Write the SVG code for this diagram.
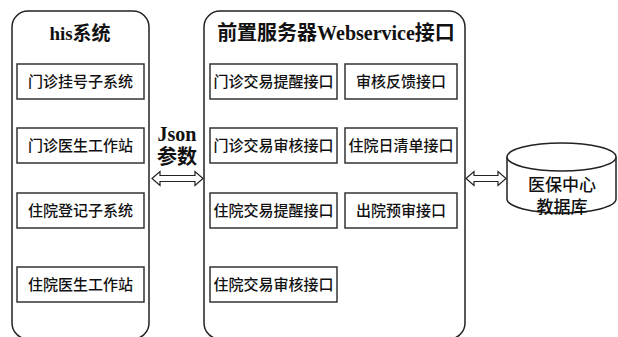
<svg xmlns="http://www.w3.org/2000/svg" width="618" height="337" viewBox="0 0 618 337">
<style>
.cont{fill:#fff;stroke:#222;stroke-width:1.5}
.box{fill:#fff;stroke:#333;stroke-width:1.5}
.t{font-family:"Liberation Serif","Noto Sans CJK SC",serif;font-size:15px;font-weight:500;fill:#111;text-anchor:middle}
.h{font-family:"Liberation Serif","Noto Sans CJK SC",serif;font-size:20px;font-weight:bold;fill:#111;text-anchor:middle}
.arr{fill:#fff;stroke:#222;stroke-width:1.2}
</style>
<rect width="618" height="337" fill="#fff"/>
<g id="his">
<rect class="cont" x="12" y="11" width="137" height="328" rx="16"/>
<text class="h" x="80" y="40" style="font-size:19px">his系统</text>
</g>
<g id="n1"><rect class="box" x="17" y="64" width="127" height="35"/><text class="t" x="80.5" y="87">门诊挂号子系统</text></g>
<g id="n2"><rect class="box" x="17" y="128" width="127" height="35"/><text class="t" x="80.5" y="151">门诊医生工作站</text></g>
<g id="n3"><rect class="box" x="17" y="193" width="127" height="35"/><text class="t" x="80.5" y="216">住院登记子系统</text></g>
<g id="n4"><rect class="box" x="17" y="267" width="127" height="35"/><text class="t" x="80.5" y="290">住院医生工作站</text></g>
<g id="front">
<rect class="cont" x="204" y="11" width="261" height="328" rx="16"/>
<text class="h" x="336" y="40">前置服务器Webservice接口</text>
</g>
<g id="m1"><rect class="box" x="210" y="64" width="127" height="35"/><text class="t" x="273.5" y="87">门诊交易提醒接口</text></g>
<g id="m2"><rect class="box" x="345" y="64" width="112" height="35"/><text class="t" x="401" y="87">审核反馈接口</text></g>
<g id="m3"><rect class="box" x="210" y="128" width="127" height="35"/><text class="t" x="273.5" y="151">门诊交易审核接口</text></g>
<g id="m4"><rect class="box" x="345" y="128" width="112" height="35"/><text class="t" x="401" y="151">住院日清单接口</text></g>
<g id="m5"><rect class="box" x="210" y="193" width="127" height="35"/><text class="t" x="273.5" y="216">住院交易提醒接口</text></g>
<g id="m6"><rect class="box" x="345" y="193" width="112" height="35"/><text class="t" x="401" y="216">出院预审接口</text></g>
<g id="m7"><rect class="box" x="210" y="267" width="127" height="35"/><text class="t" x="273.5" y="290">住院交易审核接口</text></g>
<g id="db">
<path class="cont" d="M507,157 L507,199 A54.5,14 0 0 0 616,199 L616,157"/>
<ellipse class="cont" cx="561.5" cy="157" rx="54.5" ry="14"/>
<text class="t" x="562" y="191" style="font-size:17px">医保中心</text>
<text class="t" x="562" y="213" style="font-size:17px">教据库</text>
</g>
<g id="connectors">
<path class="arr" d="M152,178.5 L160,171.5 L160,175.5 L195,175.5 L195,171.5 L203,178.5 L195,185.5 L195,181.5 L160,181.5 L160,185.5 Z"/>
<path class="arr" d="M466,178.5 L474,171.5 L474,175.5 L498,175.5 L498,171.5 L506,178.5 L498,185.5 L498,181.5 L474,181.5 L474,185.5 Z"/>
<text class="h" x="177" y="141">Json</text>
<text class="h" x="177" y="164">参数</text>
</g>
</svg>
